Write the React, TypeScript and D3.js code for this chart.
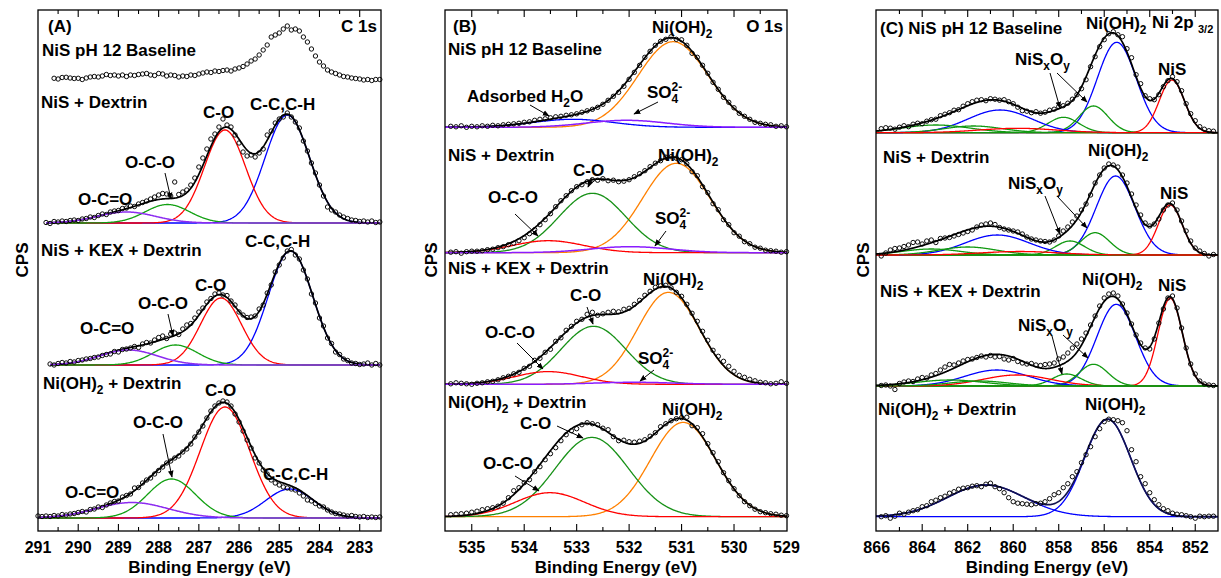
import React from "react";
import * as d3 from "d3";

// ======================= DATA =======================
// Binding energies in eV; intensities in relative CPS (each spectrum above its own baseline).

// ---------- Panel A : C 1s ----------
const aTickLabels = [291, 290, 289, 288, 287, 286, 285, 284, 283];
const aStep = 0.1;
const a1Start = 290.6; // NiS pH 12 Baseline (no fit)
const a1Counts = [3.7, 3, 4.5, 4.7, 4, 3.5, 3.7, 2.5, 4, 5, 5.5, 5, 6, 7.5, 6.5, 7, 6, 7, 5.5, 7, 6.5, 7.5, 8, 8.5, 7, 6.5, 8.5, 8, 6, 7, 6.5, 5, 6, 5.5, 7, 6.5, 8, 9, 10, 9.5, 11, 10.5, 11.5, 12, 11, 13, 14, 15.5, 18, 21, 23, 27, 32, 37, 45, 47, 49, 53, 56, 52, 53, 51, 45, 40, 33, 26, 20, 16, 12, 10, 8.5, 7, 5.5, 5, 4, 3.5, 3, 2, 2.5, 1.5, 2.5, 2.5];
const a2Start = 290.8; // NiS + Dextrin
const a2Counts = [0.5, -0.5, 1.5, 1, 2, 1.5, 2.5, 3, 2.5, 4, 4.5, 6, 5.5, 7.5, 9, 8.5, 11, 12, 12.5, 14.5, 15, 17, 16.5, 19, 20.5, 22, 24, 26, 28, 29.5, 29, 27, 41, 28.5, 31, 33, 38, 45, 56, 65, 74, 84, 89, 96, 104, 98, 96, 88, 80, 71, 67, 68, 66, 70, 74, 88, 92, 100, 104, 106, 110, 106, 101, 95, 82, 72, 60, 50, 38, 27, 16, 13, 11, 8, 6, 4.5, 3, 2.5, 1.5, 2, 1, 2, 0.5, 1];
const a2Peaks = [
  { kind: "CC", center: 284.8, height: 108, fwhm: 1.3 },
  { kind: "CO", center: 286.35, height: 93, fwhm: 1.2 },
  { kind: "OCO", center: 287.78, height: 18.5, fwhm: 1.3 },
  { kind: "OCOO", center: 288.8, height: 11, fwhm: 1.7 },
];
const a3Start = 290.7; // NiS + KEX + Dextrin
const a3Counts = [1, 0, 1.5, 2.5, 2, 3.5, 3, 4.5, 5, 6, 6.5, 7.5, 8, 9.5, 10.5, 11, 13.5, 13, 15.5, 16, 17, 18.5, 17.5, 21, 22.5, 22, 25, 27.5, 29, 26.5, 31, 32, 30.5, 36, 40, 41.5, 47, 53, 57, 63, 66.5, 71, 72, 70, 69.5, 64, 60, 53, 50, 47.5, 48, 49, 56, 60, 72, 80, 93, 100, 107, 114, 115.5, 110, 106, 95, 86, 71, 62, 47, 39, 27, 21.5, 13, 10.5, 6, 4.5, 2, 1.5, 0.5, 1, 2, 0, 1.5, 0];
const a3Peaks = [
  { kind: "CC", center: 284.72, height: 114, fwhm: 1.3 },
  { kind: "CO", center: 286.45, height: 67, fwhm: 1.2 },
  { kind: "OCO", center: 287.58, height: 20, fwhm: 1.3 },
  { kind: "OCOO", center: 288.75, height: 15, fwhm: 1.7 },
];
const a4Start = 291.0; // Ni(OH)2 + Dextrin
const a4Counts = [2, 1.5, 2, 1.5, 2.5, 2, 3.5, 3, 4, 4.5, 5.5, 6.5, 6, 8.5, 9, 11, 10.5, 13, 15, 16.5, 17, 21, 22.5, 24, 30, 30.5, 35, 38, 40, 44, 47.5, 51, 55, 57, 60, 62, 66, 69, 74, 81, 86, 92, 100, 107, 112, 115, 117, 116, 112, 104, 96, 87, 78, 70, 60, 55, 48, 44, 38, 35, 33, 31, 30, 29, 28, 25, 22, 18, 17, 14.5, 12, 11, 8, 6, 4.5, 4, 3, 2, 2.5, 1.5, 1, 1.5, 0.5, 1, 0.5, 1];
const a4Peaks = [
  { kind: "CC", center: 284.74, height: 29, fwhm: 1.4 },
  { kind: "CO", center: 286.35, height: 111, fwhm: 1.45 },
  { kind: "OCO", center: 287.68, height: 39, fwhm: 1.4 },
  { kind: "OCOO", center: 288.66, height: 15.5, fwhm: 2.1 },
];

// ---------- Panel B : O 1s ----------
const bTickLabels = [535, 534, 533, 532, 531, 530, 529];
const bStart = 535.4;
const bStep = 0.1;
const b1Counts = [1, 0.5, 1.5, 0, 1, 0.5, 1.5, 1, 2, 1.5, 2.5, 3, 3.5, 4, 5, 5.5, 7, 8, 8.5, 9.5, 10.5, 11, 12, 12.5, 13.5, 15, 16.5, 18, 20, 23, 27, 31, 35, 41, 48, 55, 62, 70, 76, 82, 86, 88, 90.5, 88, 87.5, 82, 74, 70, 62, 54, 45, 38, 30, 25, 19.5, 14, 11, 8, 5, 4, 3, 2.5, 1, 1.5, 0.5];
const b1Peaks = [
  { kind: "NiOH", center: 531.16, height: 85.6, fwhm: 1.57 },
  { kind: "H2O", center: 533.07, height: 8, fwhm: 1.8 },
  { kind: "SO4", center: 532.05, height: 7, fwhm: 1.8 },
];
const b2Counts = [0.5, 1, -0.5, 1, 1.5, 1.5, 2, 3, 3.5, 5, 6, 8, 9.5, 12, 15, 19, 23, 28, 33, 39, 46, 52, 57, 62, 66, 68, 71, 73, 72.5, 74, 72, 72.5, 71, 71.5, 73, 76, 79, 82, 86, 89.5, 92, 95.5, 96, 94.5, 93, 89, 81, 77, 66, 60, 49, 43, 33, 28, 20, 16.5, 11, 9, 5.5, 4.5, 2.5, 2, 1.5, 0.5, 1];
const b2Peaks = [
  { kind: "NiOH", center: 531.1, height: 89.4, fwhm: 1.52 },
  { kind: "CO", center: 532.7, height: 59.4, fwhm: 1.5 },
  { kind: "OCO", center: 533.54, height: 12, fwhm: 1.6 },
  { kind: "SO4", center: 531.98, height: 6, fwhm: 1.8 },
];
const b3Counts = [0.5, 1.5, 1, 0.5, 0, 1, 1.5, 2.5, 3, 4.5, 6.5, 8, 10.5, 12, 16, 18, 24, 26, 32, 35, 43, 46.5, 54, 58, 63, 65, 70, 72, 69, 70.5, 72, 73, 72.5, 75, 76, 80, 84, 89, 93, 97, 98.5, 99, 96.5, 92, 88, 80, 71, 63, 53, 44, 34, 28, 23, 18, 13, 9, 7, 5, 3.5, 2, 1.5, 0.5, 1, 2.5, 1];
const b3Peaks = [
  { kind: "NiOH", center: 531.25, height: 92, fwhm: 1.38 },
  { kind: "CO", center: 532.68, height: 58, fwhm: 1.45 },
  { kind: "OCO", center: 533.54, height: 12.7, fwhm: 1.5 },
  { kind: "SO4", center: 531.9, height: 2, fwhm: 1.8 },
];
const b4Counts = [2, 2.5, 3, 3.5, 4.5, 5.5, 7, 8, 9, 10.5, 13.5, 19, 26, 29, 34, 37, 45, 50, 57, 63, 69, 76, 82, 86, 88, 92, 94, 93, 92, 88.5, 87, 80, 76, 76.5, 75, 74.5, 75.5, 77, 80.5, 84, 90, 93, 96, 98, 99, 99.5, 91, 89, 83, 73, 64, 55, 44, 36, 28, 21, 15, 11, 7.5, 5, 4, 3, 2.5, 1.5, 1];
const b4Peaks = [
  { kind: "NiOH", center: 530.97, height: 94.3, fwhm: 1.46 },
  { kind: "CO", center: 532.71, height: 79.3, fwhm: 1.65 },
  { kind: "OCO", center: 533.51, height: 24, fwhm: 1.55 },
];

// ---------- Panel C : Ni 2p3/2 ----------
const cTickLabels = [866, 864, 862, 860, 858, 856, 854, 852];
const cStart = 865.8;
const cStep = 0.2;
const c1Counts = [4, 5, 4.5, 3.5, 5.5, 7, 6, 8.5, 9.5, 9, 11.5, 13, 13.5, 17, 18.5, 20, 22.5, 23, 26.5, 29, 31, 32.5, 33, 32, 34, 33.5, 32.5, 33, 31, 29, 25.5, 22, 21.5, 20, 21, 19.5, 20.5, 22.5, 23.5, 26, 27, 29.5, 33.5, 38, 44, 53, 66, 76, 86, 93, 99, 101, 98, 96, 84, 75, 58, 49, 37, 34, 33, 38, 46, 52, 56, 51, 42, 29, 19, 12, 6, 3.5, 2, 1.5];
const c1Peaks = [
  { kind: "NiOH", center: 855.45, height: 90.4, fwhm: 2.0 },
  { kind: "NiS", center: 853.03, height: 52.7, fwhm: 1.3 },
  { kind: "NiSxOy", center: 856.47, height: 26.7, fwhm: 1.5 },
  { kind: "NiSxOy", center: 857.79, height: 15.4, fwhm: 1.6 },
  { kind: "sat", center: 860.58, height: 22.7, fwhm: 3.3 },
  { kind: "satG", center: 863.4, height: 7.7, fwhm: 3.5 },
  { kind: "satG", center: 861.75, height: 6.7, fwhm: 3.0 },
  { kind: "satR", center: 859.8, height: 4.4, fwhm: 4.0 },
];
const c2Counts = [-1, 2, 5, 6.5, 7, 8.5, 10, 12.5, 13, 11, 14, 15, 12.5, 16.5, 17, 17.5, 19, 20.5, 22, 23.5, 25, 28, 30, 31, 32, 30.5, 27.5, 26, 25, 24, 23, 21, 18, 16, 15, 14, 13.5, 13, 15, 19, 24, 28, 33, 39, 45, 51, 60, 72, 80, 87, 91, 90, 88, 80, 72, 61, 50, 40, 32, 29, 31, 36, 45, 50, 52, 45, 34, 24, 14, 7, 4, 1.5, -1, 0.5];
const c2Peaks = [
  { kind: "NiOH", center: 855.5, height: 79, fwhm: 2.0 },
  { kind: "NiS", center: 853.1, height: 50, fwhm: 1.25 },
  { kind: "NiSxOy", center: 856.4, height: 22.3, fwhm: 1.5 },
  { kind: "NiSxOy", center: 857.5, height: 14, fwhm: 1.5 },
  { kind: "sat", center: 860.7, height: 20, fwhm: 3.3 },
  { kind: "satG", center: 862.0, height: 8, fwhm: 3.0 },
  { kind: "satG", center: 863.6, height: 6, fwhm: 3.0 },
  { kind: "satR", center: 859.7, height: 3.5, fwhm: 4.0 },
];
const c3Counts = [0.5, 1, 0, -3.5, 2.5, 4, 5, 4.5, 7, 8.5, 8, 11, 12.5, 16, 19, 21.5, 21, 23, 25, 26.5, 27, 28.5, 30, 29, 30.5, 29, 29.5, 27, 26, 27.5, 24.5, 23, 22, 22.5, 21, 20.5, 21.5, 22, 23, 27, 29, 33, 38, 42, 47, 53, 61, 70, 80, 88, 92, 93, 90, 82, 73, 62, 51, 43, 38, 37, 47, 63, 77, 88, 90, 78, 58, 38, 22, 12, 5, 2, 1, 0.5];
const c3Peaks = [
  { kind: "NiOH", center: 855.47, height: 81.7, fwhm: 2.0 },
  { kind: "NiS", center: 853.1, height: 87.7, fwhm: 1.25 },
  { kind: "NiSxOy", center: 856.47, height: 21.7, fwhm: 1.5 },
  { kind: "NiSxOy", center: 857.65, height: 12, fwhm: 1.5 },
  { kind: "sat", center: 860.72, height: 16, fwhm: 3.3 },
  { kind: "satR", center: 859.84, height: 11, fwhm: 3.5 },
  { kind: "satG", center: 862.78, height: 6, fwhm: 3.5 },
  { kind: "satG", center: 861.5, height: 5, fwhm: 3.0 },
];
const c4Counts = [0, 1, -1.5, 0.5, 3.5, 2.5, 4.5, 6, 7, 10, 11, 15, 16.5, 19, 20.5, 23.5, 25, 27.5, 28.5, 29, 30.5, 31, 30, 32.5, 33.5, 30, 28, 24, 19, 15, 13.5, 13, 12.5, 12, 13, 13.5, 15, 18, 22, 24, 29, 33, 40, 45, 54, 62, 70, 80, 88, 95, 97.5, 97, 96, 94, 86, 67, 55, 40, 33, 24, 17, 12, 8, 6, 3.5, 2.5, 2, 1, 0, -1.5, 0.5, 0, 0.5, 0.5];
const c4Peaks = [
  { kind: "NiOH", center: 855.85, height: 97.4, fwhm: 2.37 },
  { kind: "sat", center: 861.2, height: 31.7, fwhm: 4.0 },
];

// ======================= STYLE / LAYOUT =======================
const FONT = "'Liberation Sans', Arial, Helvetica, sans-serif";
const TOP = 10;
const BOTTOM = 531;

type Peak = { kind: string; center: number; height: number; fwhm: number };
type Spec = {
  start: number;
  step: number;
  counts: number[];
  peaks: Peak[];
  offset: number;
  fit?: [number, number];
  envColor?: string;
};
type PanelCfg = {
  id: string;
  left: number;
  right: number;
  domain: [number, number];
  labels: number[];
  minorStep: number;
  colors: Record<string, string>;
  late: string[];
  specs: Spec[];
};

const gaussian = (p: Peak, e: number) =>
  p.height * Math.exp((-4 * Math.LN2 * (e - p.center) ** 2) / (p.fwhm * p.fwhm));

const aColors = { CC: "#0000ff", CO: "#ff0000", OCO: "#12a012", OCOO: "#8c2cf0" };
const bColors = { NiOH: "#ff8000", H2O: "#0000ff", SO4: "#8a1cff", CO: "#179117", OCO: "#ff0000" };
const cColors = { NiOH: "#0000ff", NiS: "#ff0000", NiSxOy: "#119911", sat: "#0000ff", satG: "#119911", satR: "#ff0000" };

const panels: PanelCfg[] = [
  {
    id: "A",
    left: 38,
    right: 381,
    domain: [291, 282.47],
    labels: aTickLabels,
    minorStep: 0.5,
    colors: aColors,
    late: ["OCOO"],
    specs: [
      { start: a1Start, step: aStep, counts: a1Counts, peaks: [], offset: 449 },
      { start: a2Start, step: aStep, counts: a2Counts, peaks: a2Peaks, offset: 308, fit: [290.8, 282.5] },
      { start: a3Start, step: aStep, counts: a3Counts, peaks: a3Peaks, offset: 166, fit: [290.7, 282.5] },
      { start: a4Start, step: aStep, counts: a4Counts, peaks: a4Peaks, offset: 13, fit: [291.0, 282.5] },
    ],
  },
  {
    id: "B",
    left: 445,
    right: 787,
    domain: [535.51, 528.99],
    labels: bTickLabels,
    minorStep: 0.5,
    colors: bColors,
    late: ["SO4"],
    specs: [
      { start: bStart, step: bStep, counts: b1Counts, peaks: b1Peaks, offset: 403.7 },
      { start: bStart, step: bStep, counts: b2Counts, peaks: b2Peaks, offset: 278.3 },
      { start: bStart, step: bStep, counts: b3Counts, peaks: b3Peaks, offset: 146.7 },
      { start: bStart, step: bStep, counts: b4Counts, peaks: b4Peaks, offset: 14.3 },
    ],
  },
  {
    id: "C",
    left: 876,
    right: 1218,
    domain: [866.03, 851.0],
    labels: cTickLabels,
    minorStep: 1,
    colors: cColors,
    late: [],
    specs: [
      { start: cStart, step: cStep, counts: c1Counts, peaks: c1Peaks, offset: 398.3 },
      { start: cStart, step: cStep, counts: c2Counts, peaks: c2Peaks, offset: 276 },
      { start: cStart, step: cStep, counts: c3Counts, peaks: c3Peaks, offset: 145 },
      { start: cStart, step: cStep, counts: c4Counts, peaks: c4Peaks, offset: 14.3, envColor: "#121250" },
    ],
  },
];

function Panel({ cfg }: { cfg: PanelCfg }) {
  const x = d3.scaleLinear().domain(cfg.domain).range([cfg.left, cfg.right]);
  const y = d3.scaleLinear().domain([0, BOTTOM - TOP]).range([BOTTOM, TOP]);
  const line = d3
    .line<[number, number]>()
    .x((d) => x(d[0]))
    .y((d) => y(d[1]));
  const [hi, lo] = cfg.domain;
  const minors = d3
    .range(Math.ceil(lo / cfg.minorStep) * cfg.minorStep, hi, cfg.minorStep)
    .filter((t) => !cfg.labels.some((l) => Math.abs(l - t) < 1e-6))
    .filter((t) => x(t) > cfg.left + 2 && x(t) < cfg.right - 2);
  const majors = cfg.labels.filter((t) => x(t) > cfg.left + 2 && x(t) < cfg.right - 2);

  return (
    <g>
      <g clipPath={`url(#clip${cfg.id})`}>
        {cfg.specs.map((s, si) => {
          const [f0, f1] = s.fit ?? [hi, lo];
          const grid = d3.range(f0, f1 - 1e-9, -0.02);
          const comp = (p: Peak) => grid.map((e) => [e, s.offset + gaussian(p, e)] as [number, number]);
          const env = grid.map(
            (e) => [e, s.offset + d3.sum(s.peaks, (p) => gaussian(p, e))] as [number, number]
          );
          const early = s.peaks.filter((p) => !cfg.late.includes(p.kind));
          const late = s.peaks.filter((p) => cfg.late.includes(p.kind));
          const pts = s.counts.map((c, i) => [s.start - i * s.step, s.offset + c] as [number, number]);
          return (
            <g key={si}>
              {early.map((p, i) => (
                <path key={"e" + i} d={line(comp(p)) ?? ""} fill="none" stroke={cfg.colors[p.kind]} strokeWidth={1.3} />
              ))}
              {s.peaks.length > 0 && (
                <path d={line(env) ?? ""} fill="none" stroke={s.envColor ?? "#000"} strokeWidth={1.7} />
              )}
              {late.map((p, i) => (
                <path key={"l" + i} d={line(comp(p)) ?? ""} fill="none" stroke={cfg.colors[p.kind]} strokeWidth={1.5} />
              ))}
              {pts.map((d, i) => (
                <circle key={i} cx={x(d[0])} cy={y(d[1])} r={2.2} fill="none" stroke="#000" strokeWidth={0.95} />
              ))}
            </g>
          );
        })}
      </g>
      {/* frame */}
      <rect x={cfg.left} y={TOP} width={cfg.right - cfg.left} height={BOTTOM - TOP} fill="none" stroke="#000" strokeWidth={1.3} />
      {/* ticks */}
      {majors.map((t) => (
        <g key={"M" + t}>
          <line x1={x(t)} x2={x(t)} y1={BOTTOM} y2={BOTTOM - 7} stroke="#000" strokeWidth={1.1} />
          <line x1={x(t)} x2={x(t)} y1={TOP} y2={TOP + 7} stroke="#000" strokeWidth={1.1} />
        </g>
      ))}
      {minors.map((t) => (
        <g key={"m" + t}>
          <line x1={x(t)} x2={x(t)} y1={BOTTOM} y2={BOTTOM - 4} stroke="#000" strokeWidth={1.1} />
          <line x1={x(t)} x2={x(t)} y1={TOP} y2={TOP + 4} stroke="#000" strokeWidth={1.1} />
        </g>
      ))}
      {cfg.labels.map((t) => (
        <text key={"L" + t} x={x(t)} y={553} textAnchor="middle" fontSize={16} fontWeight="bold">
          {t}
        </text>
      ))}
      <text x={(cfg.left + cfg.right) / 2} y={573} textAnchor="middle" fontSize={17} fontWeight="bold">
        Binding Energy (eV)
      </text>
    </g>
  );
}

type Part = [string, "n" | "sub" | "sup"];
function Rich({ x, y, parts, size = 17, anchor = "start" }: { x: number; y: number; parts: Part[]; size?: number; anchor?: string }) {
  let cur = 0;
  return (
    <text x={x} y={y} fontSize={size} fontWeight="bold" textAnchor={anchor as any} style={{ whiteSpace: "pre" }}>
      {parts.map(([t, k], i) => {
        const target = k === "sub" ? size * 0.32 : k === "sup" ? -size * 0.42 : 0;
        const dy = target - cur;
        cur = target;
        return (
          <tspan key={i} dy={dy} fontSize={k === "n" ? size : size * 0.7}>
            {t}
          </tspan>
        );
      })}
    </text>
  );
}
const T = ({ x, y, t, anchor = "start" }: { x: number; y: number; t: string; anchor?: string }) => (
  <Rich x={x} y={y} parts={[[t, "n"]]} anchor={anchor} />
);
const NiOH = ({ x, y }: { x: number; y: number }) => <Rich x={x} y={y} parts={[["Ni(OH)", "n"], ["2", "sub"]]} />;
const NiSxOy = ({ x, y }: { x: number; y: number }) => (
  <Rich x={x} y={y} parts={[["NiS", "n"], ["x", "sub"], ["O", "n"], ["y", "sub"]]} />
);
const SO4 = ({ x, y }: { x: number; y: number }) => (
  <text x={x} y={y} fontSize={17} fontWeight="bold">
    SO
    <tspan fontSize={12} dy={-7}>
      2-
    </tspan>
    <tspan fontSize={12} dx={-10.7} dy={12}>
      4
    </tspan>
  </text>
);
const Arrow = ({ x1, y1, x2, y2 }: { x1: number; y1: number; x2: number; y2: number }) => (
  <line x1={x1} y1={y1} x2={x2} y2={y2} stroke="#000" strokeWidth={1} markerEnd="url(#ah)" />
);
const CPS = ({ x }: { x: number }) => (
  <text transform={`translate(${x},260) rotate(-90)`} textAnchor="middle" fontSize={17} fontWeight="bold">
    CPS
  </text>
);

export default function App() {
  return (
    <svg
      width={1221}
      height={578}
      style={{ position: "absolute", left: 0, top: 0, background: "#fff" }}
      fontFamily={FONT}
    >
      <defs>
        <marker id="ah" viewBox="0 0 10 10" refX="9" refY="5" markerWidth="7" markerHeight="7" orient="auto">
          <path d="M0,1 L10,5 L0,9 z" fill="#000" />
        </marker>
        {panels.map((p) => (
          <clipPath key={p.id} id={"clip" + p.id}>
            <rect x={p.left - 4} y={TOP} width={p.right - p.left + 8} height={BOTTOM - TOP} />
          </clipPath>
        ))}
      </defs>
      <rect x={0} y={0} width={1221} height={578} fill="#fff" />
      {panels.map((p) => (
        <Panel key={p.id} cfg={p} />
      ))}

      {/* Panel A annotations */}
      <CPS x={28} />
      <T x={48} y={32} t="(A)" />
      <T x={377} y={32} t="C 1s" anchor="end" />
      <T x={42} y={56} t="NiS pH 12 Baseline" />
      <T x={41} y={108} t="NiS + Dextrin" />
      <T x={203} y={118} t="C-O" />
      <T x={250} y={110} t="C-C,C-H" />
      <T x={125} y={168} t="O-C-O" />
      <Arrow x1={165} y1={173} x2={171} y2={199} />
      <T x={78} y={205} t="O-C=O" />
      <T x={41} y={256} t="NiS + KEX + Dextrin" />
      <T x={245} y={247} t="C-C,C-H" />
      <T x={195} y={291} t="C-O" />
      <T x={138} y={309} t="O-C-O" />
      <Arrow x1={168} y1={314} x2={173} y2={336} />
      <T x={80} y={334} t="O-C=O" />
      <Rich x={43} y={389} parts={[["Ni(OH)", "n"], ["2", "sub"], [" + Dextrin", "n"]]} />
      <T x={205} y={396} t="C-O" />
      <T x={133} y={428} t="O-C-O" />
      <Arrow x1={163} y1={434} x2={172} y2={477} />
      <T x={263} y={480} t="C-C,C-H" />
      <T x={65} y={498} t="O-C=O" />

      {/* Panel B annotations */}
      <CPS x={437} />
      <T x={453} y={32} t="(B)" />
      <T x={783} y={32} t="O 1s" anchor="end" />
      <T x={448} y={55} t="NiS pH 12 Baseline" />
      <NiOH x={652} y={33} />
      <Rich x={467} y={102} parts={[["Adsorbed H", "n"], ["2", "sub"], ["O", "n"]]} />
      <Arrow x1={530} y1={105} x2={549} y2={116} />
      <SO4 x={647} y={98} />
      <Arrow x1={658} y1={102} x2={634} y2={114} />
      <T x={448} y={161} t="NiS + Dextrin" />
      <NiOH x={658} y={161} />
      <T x={573} y={176} t="C-O" />
      <Arrow x1={592} y1={178} x2={588} y2={187} />
      <T x={488} y={203} t="O-C-O" />
      <Arrow x1={515} y1={214} x2={538} y2={236} />
      <SO4 x={655} y={224} />
      <Arrow x1={666} y1={231} x2={655} y2={246} />
      <T x={448} y={274} t="NiS + KEX + Dextrin" />
      <NiOH x={643} y={285} />
      <T x={570} y={301} t="C-O" />
      <Arrow x1={587} y1={307} x2={593} y2={324} />
      <T x={485} y={338} t="O-C-O" />
      <Arrow x1={517} y1={343} x2={543} y2={369} />
      <SO4 x={638} y={364} />
      <Arrow x1={654} y1={370} x2={640} y2={381} />
      <Rich x={448} y={408} parts={[["Ni(OH)", "n"], ["2", "sub"], [" + Dextrin", "n"]]} />
      <T x={520} y={429} t="C-O" />
      <Arrow x1={557} y1={426} x2={583} y2={438} />
      <T x={483} y={469} t="O-C-O" />
      <Arrow x1={515} y1={476} x2={539} y2={491} />
      <NiOH x={662} y={415} />

      {/* Panel C annotations */}
      <CPS x={869} />
      <T x={880} y={34} t="(C) NiS pH 12 Baseline" />
      <NiOH x={1086} y={29} />
      <T x={1152} y={28} t="Ni 2p" />
      <text x={1198} y={33} fontSize={11} fontWeight="bold">
        3/2
      </text>
      <NiSxOy x={1015} y={65} />
      <Arrow x1={1050} y1={73} x2={1060} y2={108} />
      <Arrow x1={1057} y1={73} x2={1087} y2={102} />
      <T x={1158} y={75} t="NiS" />
      <T x={883} y={163} t="NiS + Dextrin" />
      <NiOH x={1088} y={156} />
      <NiSxOy x={1008} y={189} />
      <Arrow x1={1045} y1={196} x2={1060} y2={234} />
      <Arrow x1={1057} y1={196} x2={1087} y2={228} />
      <T x={1160} y={199} t="NiS" />
      <T x={880} y={297} t="NiS + KEX + Dextrin" />
      <NiOH x={1082} y={285} />
      <T x={1158} y={291} t="NiS" />
      <NiSxOy x={1018} y={331} />
      <Arrow x1={1052} y1={336} x2={1062} y2={374} />
      <Arrow x1={1063} y1={335} x2={1088} y2={358} />
      <Rich x={878} y={415} parts={[["Ni(OH)", "n"], ["2", "sub"], [" + Dextrin", "n"]]} />
      <NiOH x={1085} y={410} />
    </svg>
  );
}
